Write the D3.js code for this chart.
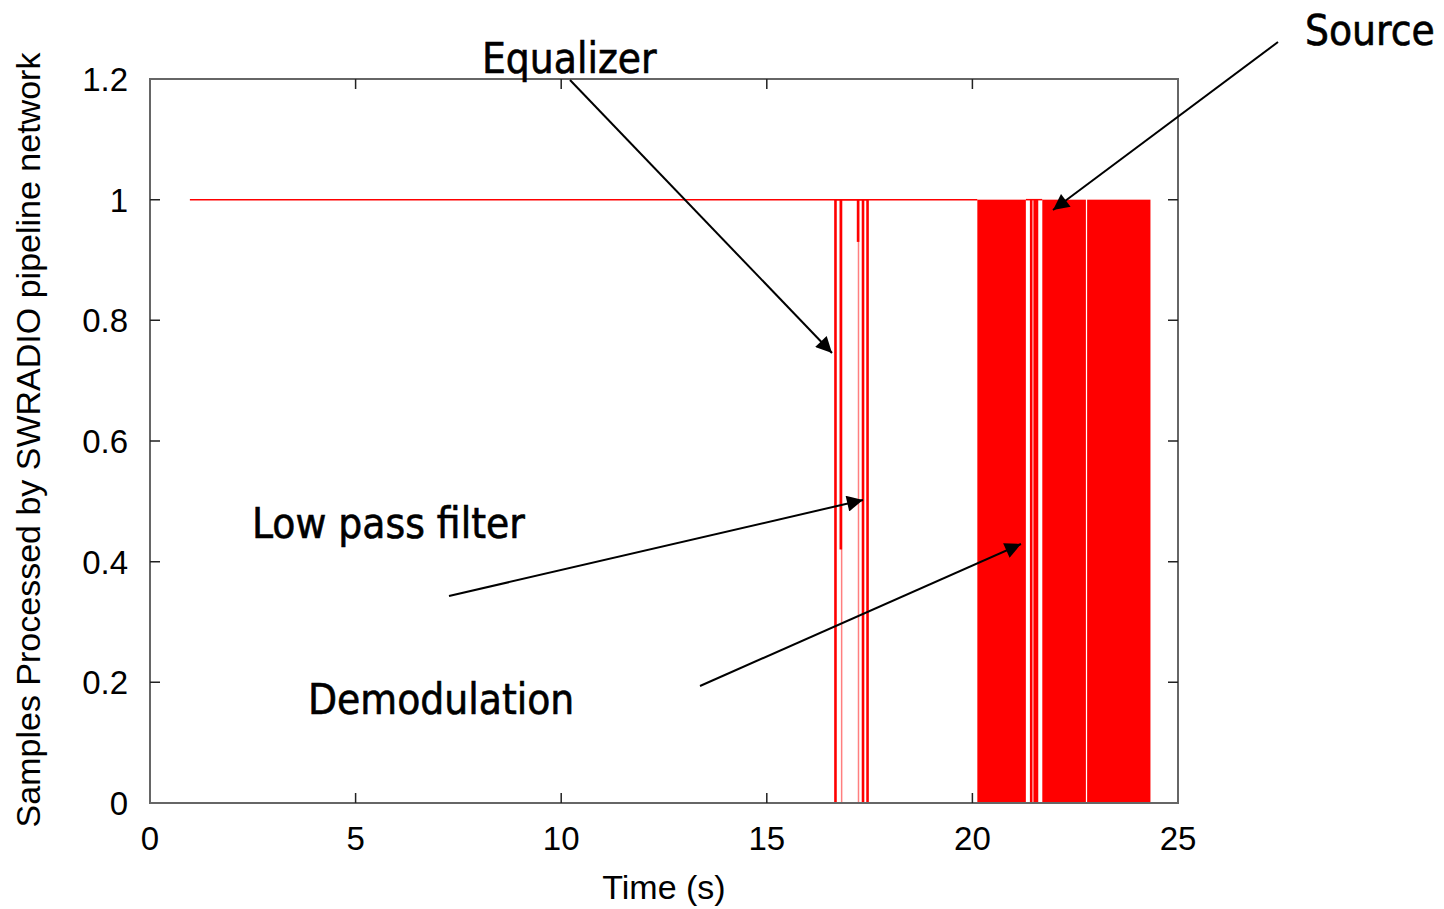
<!DOCTYPE html>
<html>
<head>
<meta charset="utf-8">
<script src="https://cdn.jsdelivr.net/npm/d3@7"></script>
<style>
  body { margin: 0; background: #fff; }
  text { font-family: "Liberation Sans", Arial, sans-serif; }
  .note { font-family: "Liberation Sans Narrow", "Arial Narrow", "DejaVu Sans Condensed", sans-serif; font-size: 42px; stroke: #000; stroke-width: 0.6px; }
</style>
</head>
<body>
<svg width="1444" height="909"></svg>
<script>
// samples processed
var xTicks = [0, 5, 10, 15, 20, 25];
var yTicks = [0, 0.2, 0.4, 0.6, 0.8, 1, 1.2];

// flat run at 1 before the busy part
var flatStart = 0.97;
var flatEnd = 20.12;

// single drops: time and lowest value reached
var dropTimes = [16.67, 16.80, 17.22, 17.34, 17.45, 21.43, 21.52, 21.57];
var dropMins  = [0, 0.42, 0.93, 0, 0, 0, 0, 0];

// fainter drops that reach zero
var faintTimes = [16.82, 17.23, 21.50];

// dense stretches that fill solid between 0 and 1
var bandStart = [20.12, 21.70, 22.79];
var bandEnd   = [21.30, 22.76, 24.33];

var noteLabels = ["Equalizer", "Source", "Low pass filter", "Demodulation"];

var makeTranslateString = function(x, y) {
  return "translate(" + x + "," + y + ")";
};

var svg = d3.select("svg");
var margins = {left: 150, top: 79, right: 266, bottom: 106};
var graph = {width: 1444 - margins.left - margins.right, height: 909 - margins.top - margins.bottom};

var xScale = d3.scaleLinear().domain([0, 25]).range([0, graph.width]);
var yScale = d3.scaleLinear().domain([0, 1.2]).range([graph.height, 0]);

var target = svg.append("g").attr("transform", makeTranslateString(margins.left, margins.top));

// red series
var red = "#ff0000";
target.append("line")
  .attr("x1", xScale(flatStart)).attr("x2", xScale(flatEnd))
  .attr("y1", yScale(1)).attr("y2", yScale(1))
  .attr("stroke", red).attr("stroke-width", 1.5);

target.selectAll(".band")
  .data(bandStart)
  .enter()
  .append("rect")
  .attr("x", function(d) { return xScale(d); })
  .attr("width", function(d, i) { return xScale(bandEnd[i]) - xScale(d); })
  .attr("y", yScale(1))
  .attr("height", yScale(0) - yScale(1))
  .attr("fill", red);

target.selectAll(".faint")
  .data(faintTimes)
  .enter()
  .append("line")
  .attr("x1", function(d) { return xScale(d); })
  .attr("x2", function(d) { return xScale(d); })
  .attr("y1", yScale(1))
  .attr("y2", yScale(0))
  .attr("stroke", red).attr("stroke-opacity", 0.5).attr("stroke-width", 1.5);

target.selectAll(".drop")
  .data(dropTimes)
  .enter()
  .append("line")
  .attr("x1", function(d) { return xScale(d); })
  .attr("x2", function(d) { return xScale(d); })
  .attr("y1", yScale(1))
  .attr("y2", function(d, i) { return yScale(dropMins[i]); })
  .attr("stroke", red).attr("stroke-width", 2.6);

// short tops joining the drops
target.append("line")
  .attr("x1", xScale(dropTimes[0])).attr("x2", xScale(dropTimes[4]))
  .attr("y1", yScale(1)).attr("y2", yScale(1))
  .attr("stroke", red).attr("stroke-width", 1.5);
target.append("line")
  .attr("x1", xScale(bandEnd[0])).attr("x2", xScale(bandStart[1]))
  .attr("y1", yScale(1)).attr("y2", yScale(1))
  .attr("stroke", red).attr("stroke-width", 1.5);

// frame
target.append("rect")
  .attr("x", 0).attr("y", 0)
  .attr("width", graph.width).attr("height", graph.height)
  .attr("fill", "none").attr("stroke", "#666").attr("stroke-width", 2);

// ticks, inward on all sides
var tickLen = 10;
target.selectAll(".xt")
  .data(xTicks.slice(1, -1))
  .enter()
  .append("path")
  .attr("d", function(d) {
    var x = xScale(d);
    return "M" + x + "," + graph.height + "v" + (-tickLen) + "M" + x + ",0v" + tickLen;
  })
  .attr("stroke", "#222").attr("stroke-width", 1.5);

target.selectAll(".yt")
  .data(yTicks.slice(1, -1))
  .enter()
  .append("path")
  .attr("d", function(d) {
    var y = yScale(d);
    return "M0," + y + "h" + tickLen + "M" + graph.width + "," + y + "h" + (-tickLen);
  })
  .attr("stroke", "#222").attr("stroke-width", 1.5);

target.selectAll(".xl")
  .data(xTicks)
  .enter()
  .append("text")
  .attr("x", function(d) { return xScale(d); })
  .attr("y", graph.height + 47)
  .attr("text-anchor", "middle")
  .attr("font-size", 33)
  .text(function(d) { return d; });

target.selectAll(".yl")
  .data(yTicks)
  .enter()
  .append("text")
  .attr("x", -22)
  .attr("y", function(d) { return yScale(d) + 12; })
  .attr("text-anchor", "end")
  .attr("font-size", 33)
  .text(function(d) { return d; });

// axis titles
svg.append("text")
  .attr("x", margins.left + xScale(12.5))
  .attr("y", 899)
  .attr("text-anchor", "middle")
  .attr("font-size", 34)
  .text("Time (s)");

svg.append("text")
  .attr("transform", makeTranslateString(40, 440) + " rotate(-90)")
  .attr("text-anchor", "middle")
  .attr("font-size", 34)
  .text("Samples Processed by SWRADIO pipeline network");

// callouts
svg.append("defs").append("marker")
  .attr("id", "head")
  .attr("viewBox", "0 0 10 10")
  .attr("refX", 10).attr("refY", 5)
  .attr("markerWidth", 22).attr("markerHeight", 16)
  .attr("markerUnits", "userSpaceOnUse")
  .attr("orient", "auto")
  .append("path")
  .attr("d", "M0,0L10,5L0,10z")
  .attr("fill", "#000");

var noteX = [482, 1305, 252, 308];
var noteY = [73, 45, 538, 714];
var arrowFrom = [[570, 80], [1278, 42], [449, 596], [700, 686]];
var arrowTo = [[832, 353], [1053, 210], [863, 500], [1021, 544]];

svg.selectAll(".note")
  .data(noteLabels)
  .enter()
  .append("text")
  .attr("class", "note")
  .attr("x", function(d, i) { return noteX[i]; })
  .attr("y", function(d, i) { return noteY[i]; })
  .text(function(d) { return d; });

svg.selectAll(".arrow")
  .data(arrowFrom)
  .enter()
  .append("line")
  .attr("x1", function(d) { return d[0]; })
  .attr("y1", function(d) { return d[1]; })
  .attr("x2", function(d, i) { return arrowTo[i][0]; })
  .attr("y2", function(d, i) { return arrowTo[i][1]; })
  .attr("stroke", "#000").attr("stroke-width", 2)
  .attr("marker-end", "url(#head)");
</script>
</body>
</html>
